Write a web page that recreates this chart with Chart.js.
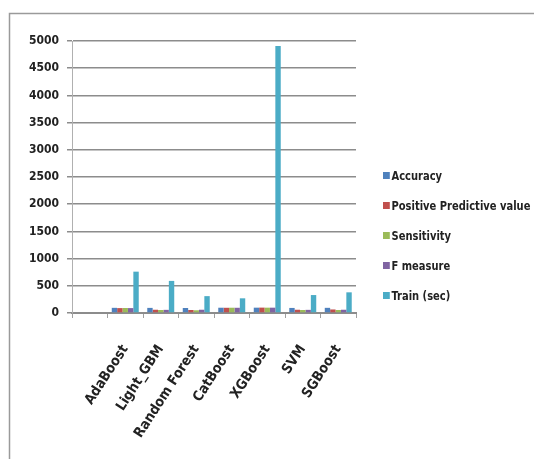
<!DOCTYPE html>
<html>
<head>
<meta charset="utf-8">
<script src="https://cdn.jsdelivr.net/npm/chart.js@4/dist/chart.umd.min.js"></script>
<style>
  html, body { margin: 0; padding: 0; background: #fff; }
  #wrap { position: relative; width: 534px; height: 459px; }
  #legend { position: absolute; left: 383px; top: 168px; font: bold 13px "DejaVu Sans Condensed", sans-serif; color: #222; transform: scaleX(0.85); transform-origin: 0 0; }
  #legend div { height: 30px; line-height: 16px; white-space: nowrap; }
  #legend span { display: inline-block; width: 8px; height: 7px; margin-right: 2px; vertical-align: 1px; }
</style>
</head>
<body>
<div id="wrap">
  <canvas id="chart" width="534" height="459"></canvas>
  <div id="legend"></div>
</div>
<script>
const models = ['', 'AdaBoost', 'Light_GBM', 'Random Forest', 'CatBoost', 'XGBoost', 'SVM', 'SGBoost'];
const accuracy = [null, 95, 94, 92, 97, 98, 93, 95];
const ppv = [null, 90, 60, 55, 96, 99, 60, 65];
const sensitivity = [null, 92, 55, 50, 97, 98, 55, 55];
const fMeasure = [null, 90, 58, 60, 96, 98, 58, 60];
const trainSec = [null, 760, 590, 310, 270, 4910, 330, 380];
const yTicks = [0, 500, 1000, 1500, 2000, 2500, 3000, 3500, 4000, 4500, 5000];

const yFont = { family: '"DejaVu Sans Condensed", sans-serif', size: 12, weight: 'bold' };
const xFont = { family: '"DejaVu Sans Condensed", sans-serif', size: 14, weight: 'bold' };

const series = [
    { label: 'Accuracy', data: accuracy, color: '#4F81BD' },
    { label: 'Positive Predictive value', data: ppv, color: '#C0504D' },
    { label: 'Sensitivity', data: sensitivity, color: '#9BBB59' },
    { label: 'F measure', data: fMeasure, color: '#8064A2' },
    { label: 'Train (sec)', data: trainSec, color: '#4BACC6' },
];

// outer frame of the chart
const frame = {
    id: 'frame',
    beforeDraw(chart) {
        const ctx = chart.ctx;
        ctx.save();
        ctx.strokeStyle = '#9a9a9a';
        ctx.lineWidth = 1.5;
        ctx.strokeRect(9.5, 13.5, 540, 460);
        ctx.restore();
    }
};

new Chart(document.getElementById('chart'), {
    type: 'bar',
    data: {
        labels: models,
        datasets: series.map(s => ({
            label: s.label,
            data: s.data,
            backgroundColor: s.color,
            borderWidth: 0,
            categoryPercentage: 0.76,
            barPercentage: 1.0,
        })),
    },
    options: {
        responsive: false,
        animation: false,
        layout: { padding: { left: 0, right: 178, top: 41, bottom: 0 } },
        plugins: { legend: { display: false }, tooltip: { enabled: false } },
        scales: {
            x: {
                grid: { display: true, drawOnChartArea: false, color: '#a0a0a0', tickLength: 5, offset: true },
                border: { color: '#8c8c8c', width: 2 },
                ticks: { color: '#222', font: xFont, minRotation: 57, maxRotation: 57, autoSkip: false, padding: 24 },
                afterFit(scale) { scale.height = 146; },
            },
            y: {
                min: 0,
                max: 5000,
                afterBuildTicks(scale) { scale.ticks = yTicks.map(v => ({ value: v })); },
                grid: { color: '#8c8c8c', lineWidth: 1.5, tickLength: 5 },
                border: { color: '#b0b0b0', width: 1 },
                ticks: { color: '#222', font: yFont, padding: 8, callback: v => String(v) },
                afterFit(scale) { scale.width = 72; },
            },
        },
    },
    plugins: [frame],
});

document.getElementById('legend').innerHTML = series.map(s =>
    `<div><span style="background:${s.color}"></span>${s.label}</div>`
).join('');
</script>
</body>
</html>
